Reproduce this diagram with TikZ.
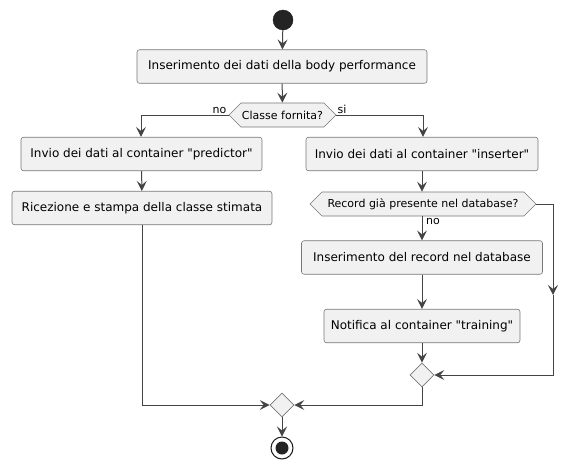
\documentclass[tikz,border=0pt]{standalone}
\usepackage{fontspec}
\setmainfont{DejaVu Sans}[Ligatures=TeXOff]
\usetikzlibrary{arrows.meta,shapes.symbols,shapes.geometric}
\definecolor{ln}{HTML}{181818}
\definecolor{cn}{HTML}{444444}
\definecolor{bd}{HTML}{777777}
\definecolor{bx}{HTML}{F1F1F1}
\tikzset{
  x=1pt, y=-1pt,
  act/.style={draw=bd, fill=bx, line width=0.6pt, rounded corners=2.5pt, inner sep=0pt, font=\fontsize{12}{14}\selectfont, minimum height=33.5pt},
  cond/.style={draw=bd, fill=bx, line width=0.6pt, signal, signal to=west and east, signal pointer angle=90, inner sep=0pt, font=\fontsize{11}{13}\selectfont, minimum height=24pt},
  merge/.style={draw=bd, fill=bx, line width=0.6pt, diamond, inner sep=0pt, minimum size=24pt},
  flow/.style={draw=cn, line width=1pt, -{Stealth[length=10pt,width=10pt,inset=4pt]}},
  lbl/.style={font=\fontsize{11}{13}\selectfont, inner sep=0pt},
}
\begin{document}
\begin{tikzpicture}
\useasboundingbox (0,0) rectangle (578,469);
\node[circle, fill=ln!95, draw=ln, minimum size=20pt, inner sep=0pt] (start) at (283,20) {};
\node[act, minimum width=290pt] (b1) at (282,66.5) {Inserimento dei dati della body performance};
\node[cond, minimum width=107pt] (d1) at (282.5,115) {Classe fornita?};
\node[act, minimum width=241pt] (b2) at (141.5,154) {Invio dei dati al container "predictor"};
\node[act, minimum width=260pt] (b3) at (142,208) {Ricezione e stampa della classe stimata};
\node[act, minimum width=232pt] (b4) at (422,154) {Invio dei dati al container "inserter"};
\node[cond, minimum width=226pt] (d2) at (423,204) {Record già presente nel database?};
\node[act, minimum width=241pt] (b5) at (422,257.5) {Inserimento del record nel database};
\node[act, minimum width=196pt] (b6) at (422,326) {Notifica al container "training"};
\node[merge] (m2) at (422,375) {};
\node[merge] (m1) at (282,405) {};
\node[circle, draw=ln, fill=white, line width=1pt, minimum size=22pt, inner sep=0pt] (stop) at (282,448) {};
\node[circle, fill=ln!95, minimum size=13pt, inner sep=0pt] at (stop) {};

\coordinate (c1) at (141,115);
\coordinate (c2) at (423,115);
\coordinate (c3) at (553,204);
\coordinate (c4) at (553,375);
\coordinate (c3m) at (553,295);
\coordinate (c5) at (142,405);
\coordinate (c6) at (422,405);

\draw[flow] (start) -- (b1);
\draw[flow] (b1) -- (d1);
\draw[flow] (d1.west) -- (c1) -- (b2.north -| c1);
\draw[flow] (d1.east) -- (c2) -- (b4.north -| c2);
\node[lbl, anchor=south east] (lno) at ([xshift=-2pt,yshift=1pt]d1.west) {no};
\node[lbl, anchor=south west] (lsi) at ([xshift=1pt,yshift=1pt]d1.east) {si};
\draw[flow] (b2) -- (b3);
\draw[flow] (b4) -- (b4.south |- d2.north);
\draw[flow] (d2.south -| b5) -- (b5);
\node[lbl, anchor=north west] (lno2) at ([xshift=4pt,yshift=-2pt]d2.south -| b5) {no};
\draw[flow] (b5) -- (b6);
\draw[flow] (b6) -- (m2);
\draw[flow] (d2.east) -- (c3) -- (c3m);
\draw[flow] (c3m) -- (c4) -- (m2.east);
\draw[flow] (b3.south -| c5) -- (c5) -- (m1.west);
\draw[flow] (m2.south) -- (c6) -- (m1.east);
\draw[flow] (m1) -- (stop);
\end{tikzpicture}
\end{document}
